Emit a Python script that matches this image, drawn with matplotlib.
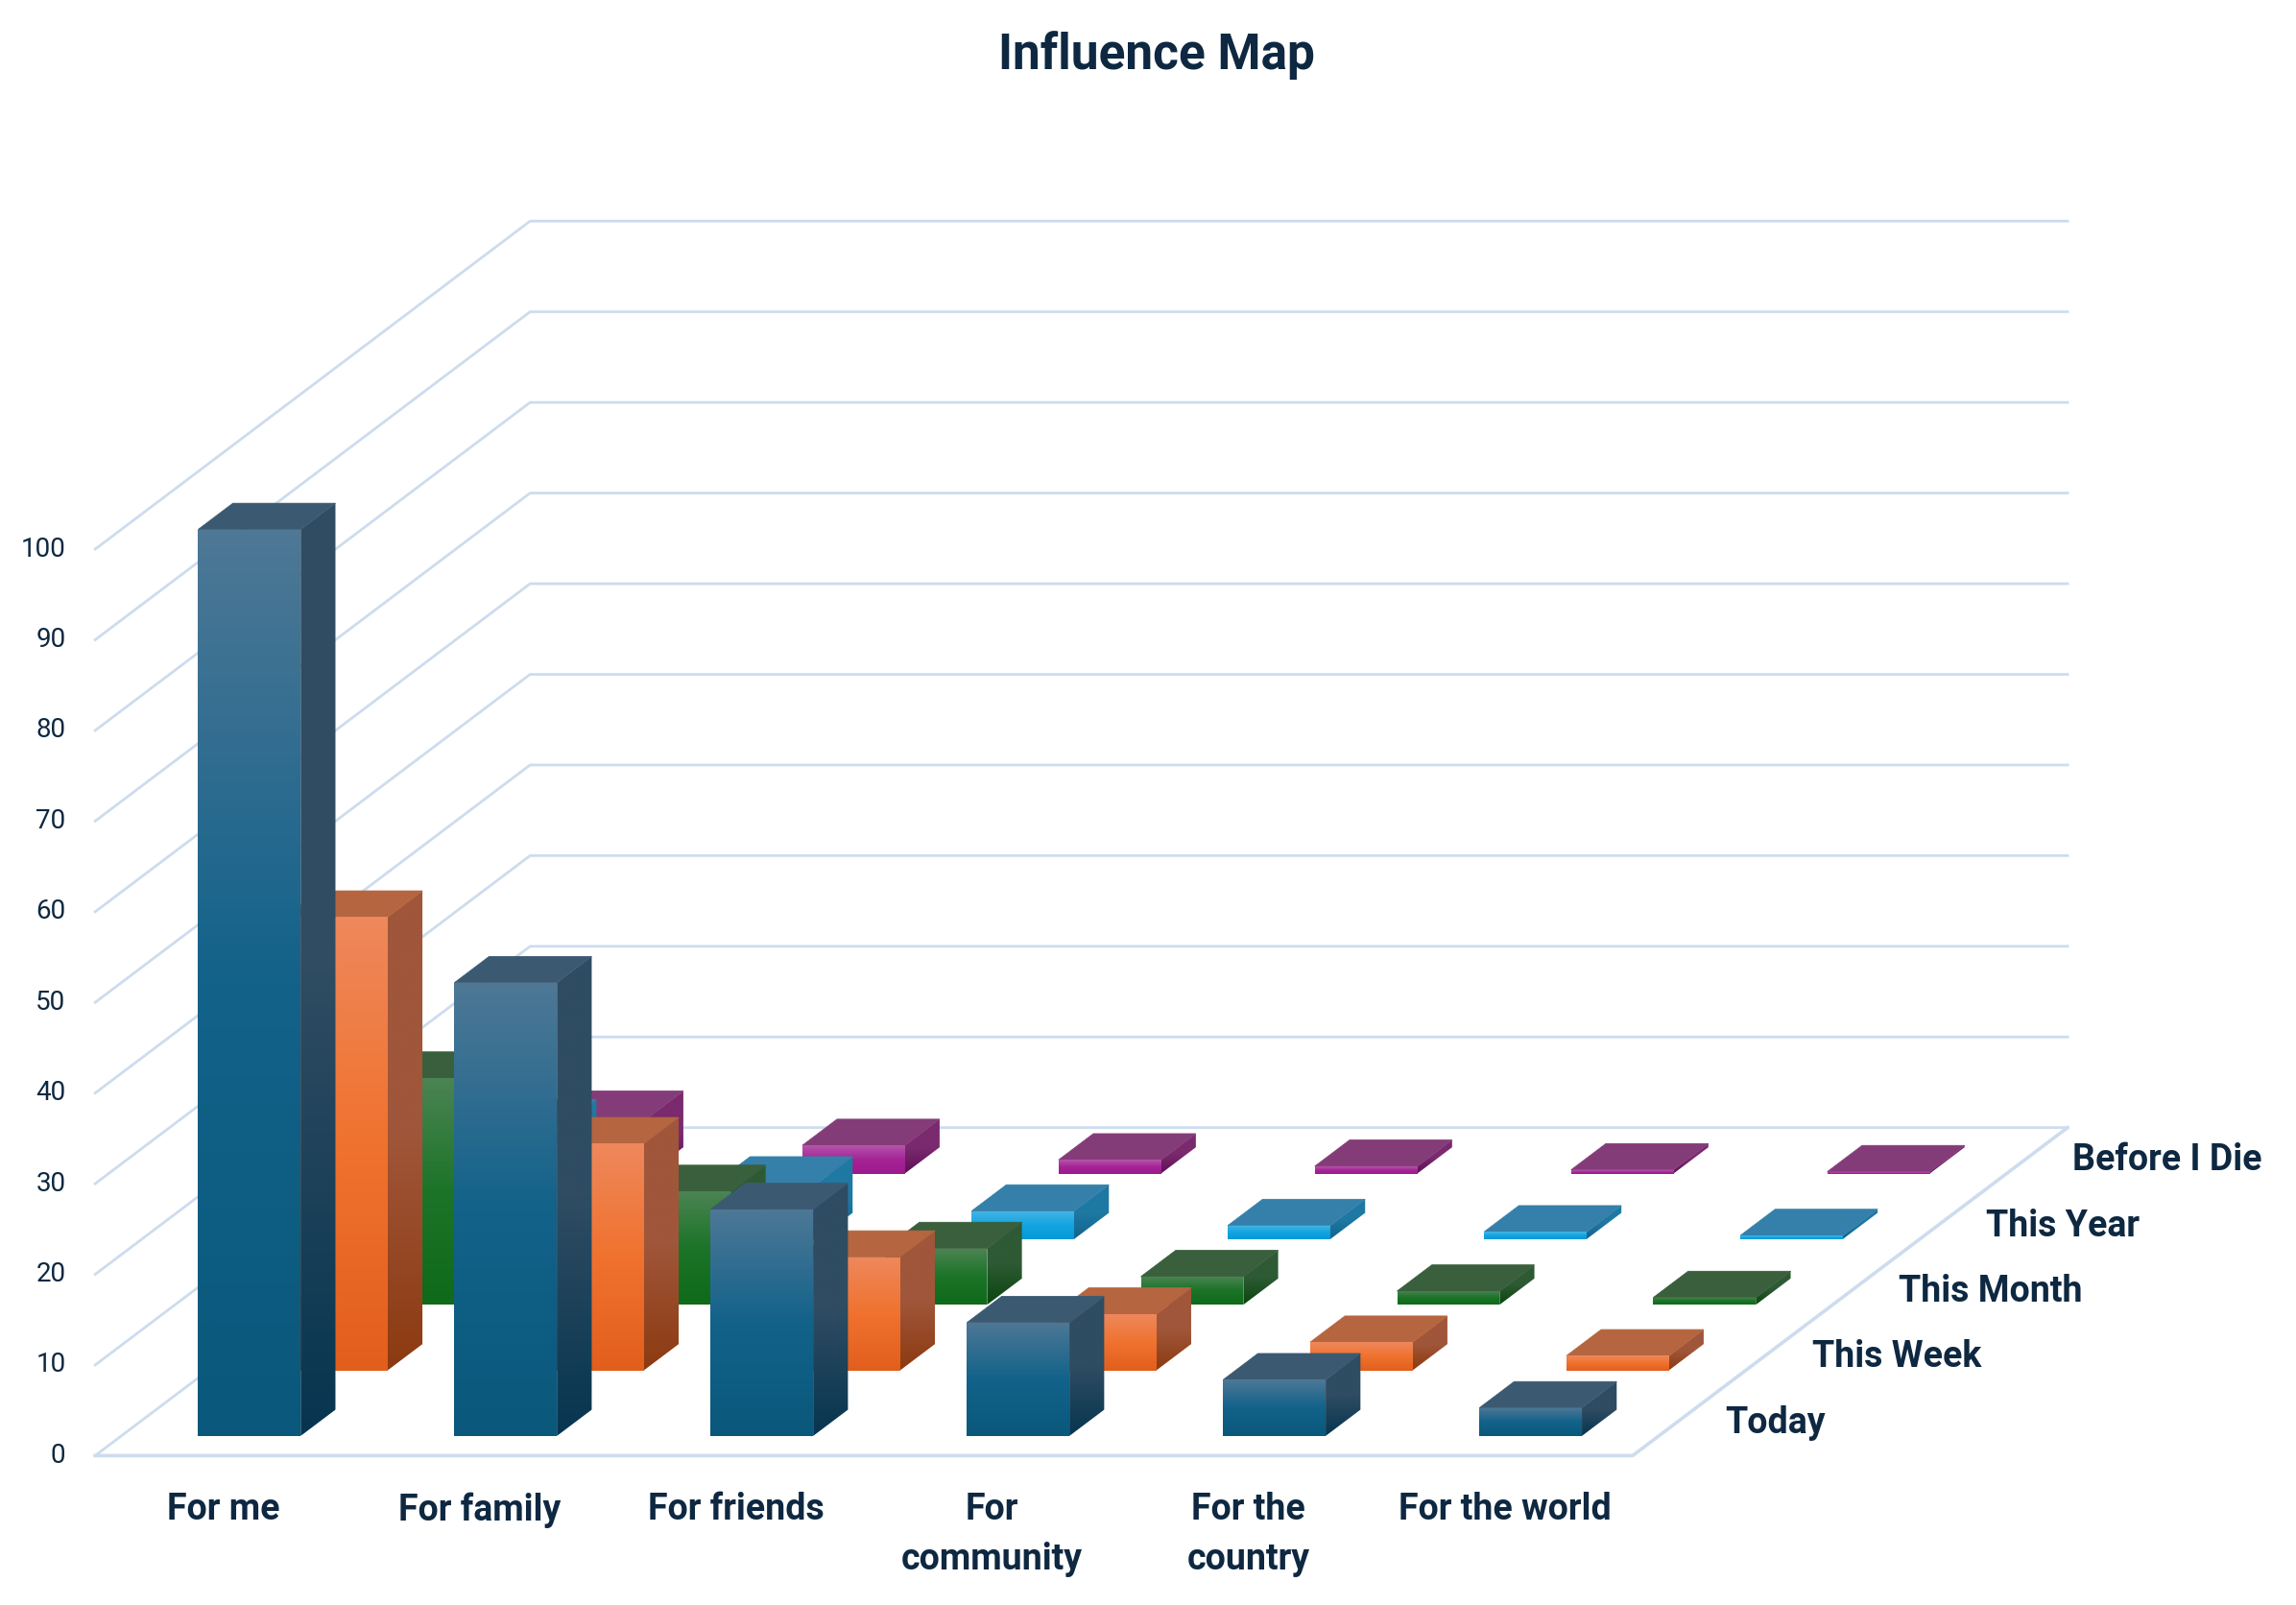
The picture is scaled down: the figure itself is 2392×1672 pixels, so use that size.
import numpy as np
import matplotlib
matplotlib.use("Agg")
import matplotlib.pyplot as plt
from matplotlib.patches import Polygon
from matplotlib.colors import LinearSegmentedColormap

plt.rcParams['font.family'] = ['Roboto', 'DejaVu Sans']

categories = ["For me", "For family", "For friends", "For\ncommunity", "For the\ncountry", "For the world"]
series = ["Today", "This Week", "This Month", "This Year", "Before I Die"]
today = [100, 50, 25, 12.5, 6.2, 3.1]
this_week = [50, 25, 12.5, 6.2, 3.1, 1.6]
this_month = [25, 12.5, 6.2, 3.1, 1.5, 0.8]
this_year = [12.5, 6.2, 3.1, 1.5, 0.8, 0.4]
before_i_die = [6.2, 3.1, 1.5, 0.8, 0.4, 0.2]
yticks = [0, 10, 20, 30, 40, 50, 60, 70, 80, 90, 100]
values = [today, this_week, this_month, this_year, before_i_die]

# (front top, front mid, front bottom, side top, side bottom, top face)
colors = [
    ("#4E7896", "#12628A", "#0A587B", "#2F4C62", "#073550", "#3B5A72"),
    ("#EE885C", "#F0722E", "#E25E1C", "#A0563A", "#8C3A10", "#B5653F"),
    ("#4C8454", "#1C7428", "#0F6A1A", "#2E5A34", "#0A4510", "#3A5F3C"),
    ("#46B4E6", "#13A5E0", "#0499D8", "#1E79A3", "#11648C", "#3580AA"),
    ("#B455AC", "#A52396", "#9C1A8C", "#7A2A6E", "#5E0F55", "#843C78"),
]
text_col = "#0E2841"
grid_col = "#CDDCEE"

# oblique projection: one depth row moves this much in (category, value) units
DU = 59.4 / 175
DV = 44.8 / 6.19
ncat = len(categories)
nrow = len(series)

fig = plt.figure(figsize=(11.96, 8.36), dpi=200)
ax = fig.add_axes([0, 0, 1, 1])
ax.set_xlim(-65 / 175, (1568 - 65) / 175)
ax.set_ylim(-(1096 - 994) / 6.19, 994 / 6.19)
ax.axis("off")


def proj(u, w, v):
    return (u + w * DU, v + w * DV)


def grad_poly(pts, cols, z):
    # vertical gradient (top -> bottom) clipped to a polygon
    poly = Polygon(pts, closed=True, facecolor="none", edgecolor="none",
                   transform=ax.transData)
    ax.add_patch(poly)
    xs = [p[0] for p in pts]
    ys = [p[1] for p in pts]
    cmap = LinearSegmentedColormap.from_list("g", list(cols[::-1]))
    g = np.linspace(0, 1, 256).reshape(-1, 1)
    im = ax.imshow(g, cmap=cmap, extent=(min(xs), max(xs), min(ys), max(ys)),
                   origin="lower", aspect="auto", zorder=z, interpolation="bilinear")
    im.set_clip_path(poly)


# walls and floor grid
D = nrow
for t in yticks:
    a = proj(0, 0, t)
    b = proj(0, D, t)
    c = proj(ncat, D, t)
    ax.plot([a[0], b[0], c[0]], [a[1], b[1], c[1]], color=grid_col, lw=1.0, zorder=1)
    ax.text(-0.115, t, str(t), ha="right", va="center", fontsize=10, color=text_col)
f0 = proj(0, 0, 0)
f1 = proj(ncat, 0, 0)
f2 = proj(ncat, D, 0)
ax.plot([f0[0], f1[0], f2[0]], [f0[1], f1[1], f2[1]], color=grid_col, lw=1.3, zorder=1)

# bars, back rows first
z = 2
bw = 0.4
for j in range(nrow - 1, -1, -1):
    ft, fm, fb, st, sb, tc = colors[j]
    w0 = j + 0.3
    w1 = j + 0.7
    for i in range(ncat):
        h = values[j][i]
        u0 = i + 0.5 - bw / 2
        u1 = i + 0.5 + bw / 2
        side = [proj(u1, w0, 0), proj(u1, w1, 0), proj(u1, w1, h), proj(u1, w0, h)]
        top = [proj(u0, w0, h), proj(u1, w0, h), proj(u1, w1, h), proj(u0, w1, h)]
        front = [proj(u0, w0, 0), proj(u1, w0, 0), proj(u1, w0, h), proj(u0, w0, h)]
        grad_poly(side, (st, st, sb), z)
        ax.add_patch(Polygon(top, closed=True, facecolor=tc, edgecolor=tc, lw=0.3, zorder=z))
        grad_poly(front, (ft, fm, fb), z + 0.5)
        z += 1

# category labels
for i, c in enumerate(categories):
    ax.text(i + 0.5, -4.0, c, ha="center", va="top", fontsize=13.5, fontweight="bold",
            color=text_col, linespacing=1.5)

# series labels along the depth axis
for j, s in enumerate(series):
    x, y = proj(ncat, j + 0.5, 0)
    ax.text(x + 0.19, y, s, ha="left", va="center", fontsize=13.5, fontweight="bold",
            color=text_col)

ax.text((790 - 65) / 175, (994 - 38) / 6.19, "Influence Map", ha="center", va="center",
        fontsize=18.5, fontweight="bold", color=text_col)

fig.savefig("out.png", dpi=200, facecolor="white")
